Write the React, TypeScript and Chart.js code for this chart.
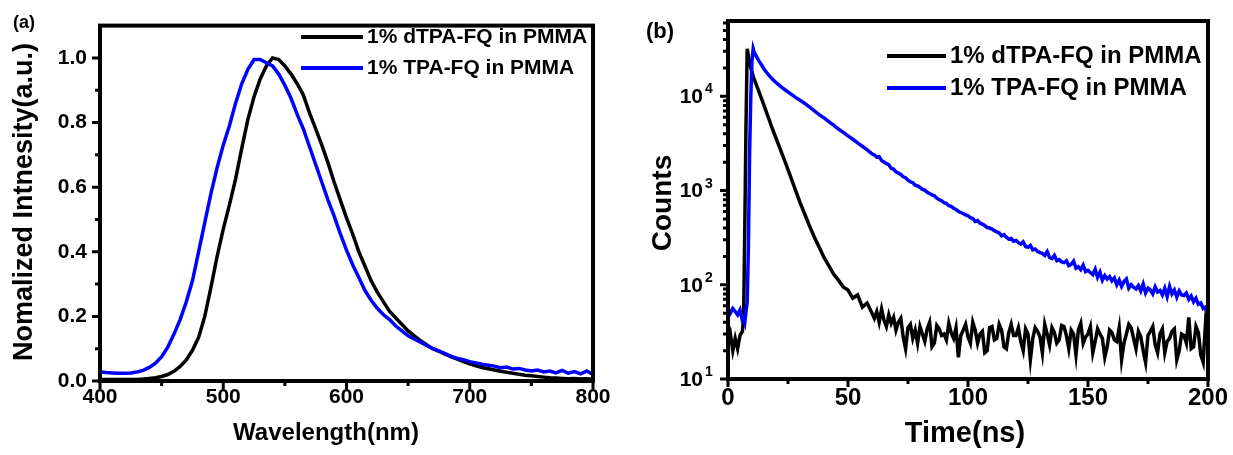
import React, { useEffect, useRef } from "react";
import { Chart, registerables } from "chart.js";

Chart.register(...registerables);

const FONT = "'Liberation Sans', Arial, Helvetica, sans-serif";

// ---------- Panel (a): steady-state PL ----------
const wavelengths = [
  400, 405, 410, 415, 420, 425, 430, 435, 440, 445,
  450, 455, 460, 465, 470, 475, 480, 485, 490, 495,
  500, 505, 510, 515, 520, 525, 530, 535, 540, 545,
  550, 555, 560, 565, 570, 575, 580, 585, 590, 595,
  600, 605, 610, 615, 620, 625, 630, 635, 640, 645,
  650, 655, 660, 665, 670, 675, 680, 685, 690, 695,
  700, 705, 710, 715, 720, 725, 730, 735, 740, 745,
  750, 755, 760, 765, 770, 775, 780, 785, 790, 795,
  800,
];

const plDTPA = [
  0.005, 0.005, 0.005, 0.005, 0.005, 0.005, 0.005, 0.006, 0.008, 0.010,
  0.014, 0.020, 0.030, 0.045, 0.065, 0.095, 0.135, 0.200, 0.290, 0.385,
  0.470, 0.545, 0.625, 0.720, 0.810, 0.880, 0.935, 0.975, 1.000, 0.995,
  0.975, 0.950, 0.920, 0.885, 0.830, 0.780, 0.730, 0.675, 0.615, 0.560,
  0.505, 0.455, 0.400, 0.355, 0.310, 0.275, 0.245, 0.215, 0.195, 0.175,
  0.155, 0.140, 0.125, 0.112, 0.100, 0.092, 0.083, 0.075, 0.068, 0.060,
  0.053, 0.047, 0.042, 0.038, 0.034, 0.030, 0.027, 0.024, 0.021, 0.018,
  0.016, 0.014, 0.012, 0.010, 0.009, 0.008, 0.007, 0.008, 0.006, 0.007,
  0.005,
];

const plTPA = [
  0.028, 0.026, 0.025, 0.024, 0.024, 0.025, 0.028, 0.033, 0.042, 0.055,
  0.075, 0.105, 0.145, 0.190, 0.245, 0.310, 0.400, 0.490, 0.580, 0.660,
  0.730, 0.790, 0.860, 0.920, 0.965, 0.995, 0.995, 0.985, 0.975, 0.950,
  0.915, 0.875, 0.825, 0.780, 0.725, 0.670, 0.615, 0.560, 0.510, 0.455,
  0.405, 0.360, 0.320, 0.280, 0.250, 0.225, 0.205, 0.190, 0.170, 0.155,
  0.140, 0.130, 0.120, 0.110, 0.100, 0.093, 0.085, 0.076, 0.070, 0.066,
  0.060, 0.056, 0.052, 0.049, 0.046, 0.041, 0.043, 0.037, 0.039, 0.034,
  0.031, 0.034, 0.028, 0.031, 0.025, 0.033, 0.024, 0.029, 0.022, 0.031,
  0.020,
];

const plXMajor = [400, 500, 600, 700, 800];
const plXLabels = ["400", "500", "600", "700", "800"];
const plXMinor = [450, 550, 650, 750];
const plYMajor = [0, 0.2, 0.4, 0.6, 0.8, 1.0];
const plYLabels = ["0.0", "0.2", "0.4", "0.6", "0.8", "1.0"];
const plYMinor = [0.1, 0.3, 0.5, 0.7, 0.9];

// ---------- Panel (b): TRPL decay ----------
const times = [
  0, 1, 2, 3, 4, 5, 6, 6.5, 7, 7.5,
  8, 8.5, 9, 9.5, 10, 10.5, 11, 11.5, 12, 13,
  14, 15, 16, 17, 18, 19, 20, 22, 24, 26,
  28, 30, 32, 34, 36, 38, 40, 42, 44, 46,
  48, 50, 52, 54, 56, 58,
  60, 61, 62, 63, 64, 65, 66, 67, 68, 69,
  70, 71, 72, 73, 74, 75, 76, 77, 78, 79,
  80, 81, 82, 83, 84, 85, 86, 87, 88, 89,
  90, 91, 92, 93, 94, 95, 96, 97, 98, 99,
  100, 101, 102, 103, 104, 105, 106, 107, 108, 109,
  110, 111, 112, 113, 114, 115, 116, 117, 118, 119,
  120, 121, 122, 123, 124, 125, 126, 127, 128, 129,
  130, 131, 132, 133, 134, 135, 136, 137, 138, 139,
  140, 141, 142, 143, 144, 145, 146, 147, 148, 149,
  150, 151, 152, 153, 154, 155, 156, 157, 158, 159,
  160, 161, 162, 163, 164, 165, 166, 167, 168, 169,
  170, 171, 172, 173, 174, 175, 176, 177, 178, 179,
  180, 181, 182, 183, 184, 185, 186, 187, 188, 189,
  190, 191, 192, 193, 194, 195, 196, 197, 198, 199,
  200,
];

const trDTPA = [
  24, 30, 20, 27, 21, 29, 32, 45, 400, 5000,
  32000, 27000, 23000, 20000, 18000, 16300, 15000, 13900, 12800, 11000,
  9400, 8000, 6800, 5800, 4900, 4200, 3600, 2650, 1950, 1420,
  1030, 750, 560, 420, 320, 250, 195, 160, 130, 112,
  95, 88, 72, 78, 58, 64,
  50, 44, 52, 40, 55, 42, 36, 48, 39, 45,
  33, 40, 44, 28, 21, 35, 38, 27, 33, 24,
  36, 30, 25, 34, 40, 22, 24, 37, 34, 29,
  30, 26, 39, 31, 27, 35, 17, 29, 33, 38,
  28, 24, 40, 33, 24, 30, 32, 19, 20, 35,
  36, 26, 27, 38, 33, 22, 21, 31, 38, 29,
  29, 35, 25, 20, 34, 30, 16, 27, 35, 32,
  28, 19, 38, 30, 23, 35, 31, 24, 26, 37,
  36, 29, 21, 33, 30, 18, 33, 39, 24, 28,
  30, 36, 19, 25, 34, 30, 27, 17, 22, 33,
  31, 26, 25, 35, 16, 24, 30, 38, 35, 27,
  21, 32, 28, 20, 15, 29, 32, 36, 23, 19,
  30, 34, 19, 25, 27, 32, 34, 16, 20, 30,
  29, 24, 45, 21, 22, 36, 31, 18, 15, 40,
  28,
];

const trTPA = [
  55, 50, 56, 52, 48, 54, 42, 44, 40, 52,
  65, 250, 2500, 10000, 24000, 32000, 29000, 27500, 26000, 23500,
  21500, 19500, 18000, 16800, 15700, 14800, 14000, 12700, 11600, 10700,
  9800, 9100, 8400, 7700, 7000, 6400, 5900, 5400, 4950, 4500,
  4150, 3800, 3500, 3200, 2950, 2700,
  2450, 2380, 2260, 2290, 2080, 2010, 1930, 1880, 1720, 1690,
  1580, 1530, 1480, 1400, 1370, 1290, 1240, 1210, 1140, 1120,
  1080, 1030, 1010, 960, 930, 900, 880, 830, 800, 780,
  745, 730, 690, 680, 650, 630, 600, 585, 570, 550,
  540, 515, 505, 470, 480, 450, 440, 425, 405, 400,
  390, 375, 365, 355, 330, 340, 320, 305, 310, 290,
  295, 280, 270, 285, 255, 250, 262, 235, 240, 225,
  220, 215, 205, 225, 195, 190, 205, 180, 185, 175,
  172, 180, 160, 165, 178, 150, 155, 145, 162, 138,
  142, 135, 128, 146, 120, 136, 112, 125, 115, 122,
  110, 118, 100, 112, 96, 108, 115, 92, 100, 94,
  90, 98, 86, 102, 82, 92, 88, 80, 95, 84,
  87, 78, 92, 75, 96, 80, 88, 74, 86, 78,
  77, 82, 70, 76, 66, 72, 62, 64, 56, 58,
  50,
];

const trXMajor = [0, 50, 100, 150, 200];
const trXLabels = ["0", "50", "100", "150", "200"];
const trXMinor = [25, 75, 125, 175];
const trYMajor = [10, 100, 1000, 10000];
const trYBase = ["10", "10", "10", "10"];
const trYExp = ["1", "2", "3", "4"];
const trYMinor = [
  20, 30, 40, 50, 60, 70, 80, 90,
  200, 300, 400, 500, 600, 700, 800, 900,
  2000, 3000, 4000, 5000, 6000, 7000, 8000, 9000,
  20000, 30000, 40000, 50000, 60000,
];

const seriesNames = ["1% dTPA-FQ in PMMA", "1% TPA-FQ in PMMA"];
const seriesColors = ["#000000", "#0000FF"];

function drawText(
  ctx: CanvasRenderingContext2D,
  s: string,
  x: number,
  y: number,
  size: number,
  align: CanvasTextAlign = "left",
  baseline: CanvasTextBaseline = "middle",
  rot = 0
) {
  ctx.save();
  ctx.translate(x, y);
  if (rot) ctx.rotate(rot);
  ctx.font = `bold ${size}px ${FONT}`;
  ctx.fillStyle = "#000";
  ctx.textAlign = align;
  ctx.textBaseline = baseline;
  ctx.fillText(s, 0, 0);
  ctx.restore();
}

type Decor = {
  xMajor: number[];
  xMinor: number[];
  yMajor: number[];
  yMinor: number[];
  legendRows: number[];
  legendLine: [number, number];
  legendTextX: number;
  legendSize: number;
  xTitle: string;
  xTitlePos: [number, number];
  xTitleSize: number;
  yTitle: string;
  yTitlePos: [number, number];
  yTitleSize: number;
  panel: string;
  panelPos: [number, number];
  panelSize: number;
  logLabels?: boolean;
};

function makeDecor(d: Decor) {
  return {
    id: "decor",
    afterDraw(chart: any) {
      const { ctx, chartArea: a, scales } = chart;
      const xs = scales.x;
      const ys = scales.y;
      ctx.save();
      ctx.strokeStyle = "#000";
      ctx.lineCap = "butt";
      ctx.lineWidth = 3;
      const major = 8;
      const minor = 5;
      ctx.beginPath();
      d.xMajor.forEach((v) => {
        const p = xs.getPixelForValue(v);
        ctx.moveTo(p, a.bottom);
        ctx.lineTo(p, a.bottom + major);
      });
      d.xMinor.forEach((v) => {
        const p = xs.getPixelForValue(v);
        ctx.moveTo(p, a.bottom);
        ctx.lineTo(p, a.bottom + minor);
      });
      d.yMajor.forEach((v) => {
        const p = ys.getPixelForValue(v);
        ctx.moveTo(a.left, p);
        ctx.lineTo(a.left - major, p);
      });
      d.yMinor.forEach((v) => {
        const p = ys.getPixelForValue(v);
        ctx.moveTo(a.left, p);
        ctx.lineTo(a.left - minor, p);
      });
      ctx.stroke();

      ctx.lineWidth = 4;
      ctx.strokeRect(a.left, a.top, a.right - a.left, a.bottom - a.top);

      // log-axis labels with superscript exponents
      if (d.logLabels) {
        trYMajor.forEach((v, i) => {
          const p = ys.getPixelForValue(v);
          drawText(ctx, trYBase[i], a.left - 25, p + 1, 21, "right", "middle");
          drawText(ctx, trYExp[i], a.left - 23, p - 3, 14, "left", "alphabetic");
        });
      }

      // legend
      d.legendRows.forEach((yy, i) => {
        ctx.strokeStyle = seriesColors[i];
        ctx.lineWidth = 4;
        ctx.beginPath();
        ctx.moveTo(d.legendLine[0], yy);
        ctx.lineTo(d.legendLine[1], yy);
        ctx.stroke();
        drawText(ctx, seriesNames[i], d.legendTextX, yy, d.legendSize, "left", "middle");
      });

      drawText(ctx, d.xTitle, d.xTitlePos[0], d.xTitlePos[1], d.xTitleSize, "center", "middle");
      drawText(ctx, d.yTitle, d.yTitlePos[0], d.yTitlePos[1], d.yTitleSize, "center", "middle", -Math.PI / 2);
      drawText(ctx, d.panel, d.panelPos[0], d.panelPos[1], d.panelSize, "center", "middle");
      ctx.restore();
    },
  };
}

const noGrid = { display: false, drawTicks: false };

function PLChart() {
  const ref = useRef<HTMLCanvasElement | null>(null);
  useEffect(() => {
    if (!ref.current) return;
    const chart = new Chart(ref.current, {
      type: "line",
      data: {
        datasets: [
          {
            label: seriesNames[0],
            data: wavelengths.map((w, i) => ({ x: w, y: plDTPA[i] })),
            borderColor: seriesColors[0],
            borderWidth: 3.5,
            pointRadius: 0,
            tension: 0,
            order: 2,
          },
          {
            label: seriesNames[1],
            data: wavelengths.map((w, i) => ({ x: w, y: plTPA[i] })),
            borderColor: seriesColors[1],
            borderWidth: 3.5,
            pointRadius: 0,
            tension: 0,
            order: 1,
          },
        ],
      },
      options: {
        responsive: false,
        devicePixelRatio: 1,
        animation: false,
        layout: { padding: { top: 14, right: 23, left: 0, bottom: 0 } },
        plugins: { legend: { display: false }, tooltip: { enabled: false } },
        scales: {
          x: {
            type: "linear",
            min: 400,
            max: 800,
            grid: noGrid,
            border: { display: false },
            afterBuildTicks: (s: any) => {
              s.ticks = plXMajor.map((v) => ({ value: v }));
            },
            ticks: {
              padding: 4,
              color: "#000",
              font: { family: FONT, size: 21, weight: "bold" },
              maxRotation: 0,
              callback: (_v: any, i: number) => plXLabels[i],
            },
            afterFit: (s: any) => {
              s.height = 74;
            },
          },
          y: {
            type: "linear",
            min: 0,
            max: 1.1,
            grid: noGrid,
            border: { display: false },
            afterBuildTicks: (s: any) => {
              s.ticks = plYMajor.map((v) => ({ value: v }));
            },
            ticks: {
              padding: 13,
              color: "#000",
              font: { family: FONT, size: 21, weight: "bold" },
              callback: (_v: any, i: number) => plYLabels[i],
            },
            afterFit: (s: any) => {
              s.width = 100;
            },
          },
        },
      } as any,
      plugins: [
        makeDecor({
          xMajor: plXMajor,
          xMinor: plXMinor,
          yMajor: plYMajor,
          yMinor: plYMinor,
          legendRows: [37, 68],
          legendLine: [301, 363],
          legendTextX: 367,
          legendSize: 21,
          xTitle: "Wavelength(nm)",
          xTitlePos: [326, 433],
          xTitleSize: 24,
          yTitle: "Nomalized Intnesity(a.u.)",
          yTitlePos: [25, 202],
          yTitleSize: 27,
          panel: "(a)",
          panelPos: [24, 23],
          panelSize: 18,
        }),
      ],
    });
    return () => chart.destroy();
  }, []);
  return <canvas ref={ref} width={616} height={455} style={{ position: "absolute", left: 0, top: 0 }} />;
}

function TRPLChart() {
  const ref = useRef<HTMLCanvasElement | null>(null);
  useEffect(() => {
    if (!ref.current) return;
    const chart = new Chart(ref.current, {
      type: "line",
      data: {
        datasets: [
          {
            label: seriesNames[0],
            data: times.map((t, i) => ({ x: t, y: trDTPA[i] })),
            borderColor: seriesColors[0],
            borderWidth: 3.5,
            pointRadius: 0,
            tension: 0,
            order: 2,
          },
          {
            label: seriesNames[1],
            data: times.map((t, i) => ({ x: t, y: trTPA[i] })),
            borderColor: seriesColors[1],
            borderWidth: 3.5,
            pointRadius: 0,
            tension: 0,
            order: 1,
          },
        ],
      },
      options: {
        responsive: false,
        devicePixelRatio: 1,
        animation: false,
        layout: { padding: { top: 21, right: 22, left: 0, bottom: 0 } },
        plugins: { legend: { display: false }, tooltip: { enabled: false } },
        scales: {
          x: {
            type: "linear",
            min: 0,
            max: 200,
            grid: noGrid,
            border: { display: false },
            afterBuildTicks: (s: any) => {
              s.ticks = trXMajor.map((v) => ({ value: v }));
            },
            ticks: {
              padding: 5,
              color: "#000",
              font: { family: FONT, size: 24, weight: "bold" },
              maxRotation: 0,
              callback: (_v: any, i: number) => trXLabels[i],
            },
            afterFit: (s: any) => {
              s.height = 76;
            },
          },
          y: {
            type: "logarithmic",
            min: 10,
            max: 63000,
            grid: noGrid,
            border: { display: false },
            ticks: { display: false },
            afterFit: (s: any) => {
              s.width = 112;
            },
          },
        },
      } as any,
      plugins: [
        makeDecor({
          xMajor: trXMajor,
          xMinor: trXMinor,
          yMajor: trYMajor,
          yMinor: trYMinor,
          legendRows: [56, 88],
          legendLine: [271, 330],
          legendTextX: 334,
          legendSize: 24,
          xTitle: "Time(ns)",
          xTitlePos: [349, 434],
          xTitleSize: 29,
          yTitle: "Counts",
          yTitlePos: [47, 203],
          yTitleSize: 28,
          panel: "(b)",
          panelPos: [44, 32],
          panelSize: 22,
          logLabels: true,
        }),
      ],
    });
    return () => chart.destroy();
  }, []);
  return <canvas ref={ref} width={617} height={455} style={{ position: "absolute", left: 616, top: 0 }} />;
}

export default function App() {
  return (
    <div
      style={{
        position: "absolute",
        left: 0,
        top: 0,
        width: 1233,
        height: 455,
        background: "#fff",
        overflow: "hidden",
      }}
    >
      <PLChart />
      <TRPLChart />
    </div>
  );
}
